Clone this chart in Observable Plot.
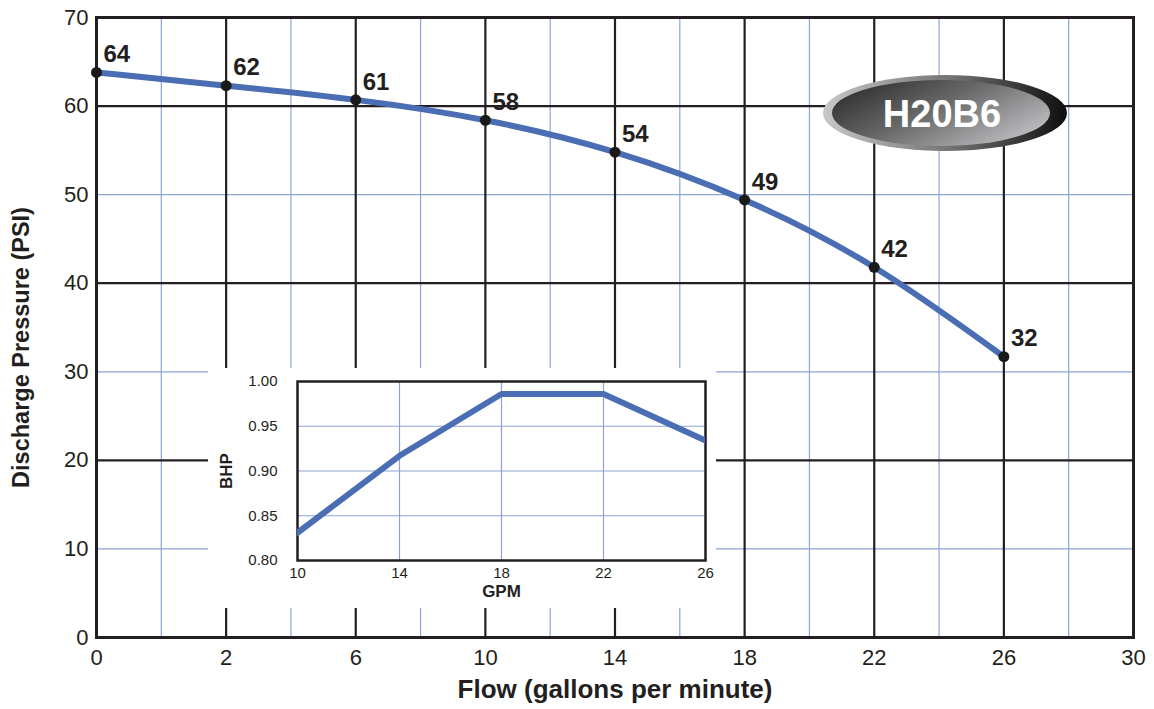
<!DOCTYPE html>
<html>
<head>
<meta charset="utf-8">
<script src="https://cdn.jsdelivr.net/npm/d3@7"></script>
<script src="https://cdn.jsdelivr.net/npm/@observablehq/plot@0.6"></script>
<style>
  html, body { margin: 0; padding: 0; background: #fff; }
  #wrap { position: relative; width: 1154px; height: 709px; font-family: "Liberation Sans", Arial, sans-serif; }
  #main { position: absolute; left: 0; top: 0; }
  #inset { position: absolute; left: 208px; top: 368px; background: #fff; }
  svg { font-family: "Liberation Sans", Arial, sans-serif; }
  [aria-label="x-axis label"], [aria-label="y-axis label"] { font-weight: bold; }
  #main [aria-label="x-axis label"] { font-size: 26px; }
  #main [aria-label="y-axis label"] { font-size: 23.5px; }
  #inset [aria-label="x-axis label"], #inset [aria-label="y-axis label"] { font-size: 17px; }
</style>
</head>
<body>
<div id="wrap"><div id="main"></div><div id="inset"></div></div>
<script>
// ---- data ----
const flowTicks = [0, 2, 6, 10, 14, 18, 22, 26, 30];
const flowMinor = [1, 4, 8, 12, 16, 20, 24, 28];
const pressureTicks = [0, 10, 20, 30, 40, 50, 60, 70];
const pressureMajorGrid = [20, 40, 60];
const pressureMinorGrid = [10, 30, 50];
const flow = [0, 2, 6, 10, 14, 18, 22, 26];
const pressure = [63.8, 62.3, 60.7, 58.4, 54.8, 49.4, 41.8, 31.7];
const pressureLabels = ["64", "62", "61", "58", "54", "49", "42", "32"];

const gpm = [10, 14, 18, 22, 26];
const bhp = [0.831, 0.917, 0.986, 0.986, 0.934];
const bhpTicks = [0.80, 0.85, 0.90, 0.95, 1.00];
const modelName = "H20B6";

const BLUE = "#4a6db3";
const GRID_BLUE = "#8ea2d6";
const INK = "#231f20";

const curve = flow.map((f, i) => ({flow: f, pressure: pressure[i], label: pressureLabels[i]}));
const bhpData = gpm.map((g, i) => ({gpm: g, bhp: bhp[i]}));

// ---- main chart ----
const main = Plot.plot({
  width: 1154,
  height: 709,
  marginLeft: 96,
  marginRight: 21,
  marginTop: 17,
  marginBottom: 72,
  x: {type: "linear", domain: flowTicks},
  y: {type: "linear", domain: [0, 70]},
  style: {fontFamily: "Liberation Sans, Arial, sans-serif", color: INK, background: "transparent"},
  marks: [
    Plot.ruleX(flowMinor, {stroke: GRID_BLUE, strokeWidth: 1.2}),
    Plot.ruleY(pressureMinorGrid, {stroke: GRID_BLUE, strokeWidth: 1.2}),
    Plot.ruleX(flowTicks.slice(1, -1), {stroke: INK, strokeWidth: 2.2}),
    Plot.ruleY(pressureMajorGrid, {stroke: INK, strokeWidth: 2.2}),
    Plot.frame({stroke: INK, strokeWidth: 3}),
    Plot.axisX({ticks: flowTicks, tickSize: 0, tickPadding: 12, fontSize: 22,
      label: "Flow (gallons per minute)", labelAnchor: "center", labelOffset: 60, labelArrow: "none"}),
    Plot.axisY({ticks: pressureTicks, tickSize: 0, tickPadding: 8, fontSize: 22,
      label: "Discharge Pressure (PSI)", labelAnchor: "center", labelOffset: 84, labelArrow: "none"}),
    Plot.line(curve, {x: "flow", y: "pressure", stroke: BLUE, strokeWidth: 6, curve: "natural"}),
    Plot.dot(curve, {x: "flow", y: "pressure", r: 5.5, fill: "#1a1a1a", stroke: "none"}),
    Plot.text(curve, {x: "flow", y: "pressure", text: "label", textAnchor: "start", dx: 7, dy: -18,
      fontSize: 24, fontWeight: "bold", fill: INK})
  ]
});
document.getElementById("main").appendChild(main);

// nudge the y-axis title down to sit like the original
d3.select(main).selectAll('[aria-label="y-axis label"] text').each(function () {
  const t = this.getAttribute("transform") || "";
  this.setAttribute("transform", "translate(0,20) " + t);
});

// logo badge
{
  const svg = d3.select(main);
  const defs = svg.append("defs");
  const g1 = defs.append("linearGradient").attr("id", "ringGrad").attr("x1", "0").attr("x2", "1").attr("y1", "0").attr("y2", "0");
  g1.append("stop").attr("offset", "0").attr("stop-color", "#c8c8c8");
  g1.append("stop").attr("offset", "0.55").attr("stop-color", "#6e6e6e");
  g1.append("stop").attr("offset", "1").attr("stop-color", "#0e0e0e");
  const g2 = defs.append("linearGradient").attr("id", "coreGrad").attr("x1", "0").attr("x2", "1").attr("y1", "0.2").attr("y2", "0.8");
  g2.append("stop").attr("offset", "0").attr("stop-color", "#2e2e2e");
  g2.append("stop").attr("offset", "0.45").attr("stop-color", "#6a6a6b");
  g2.append("stop").attr("offset", "1").attr("stop-color", "#c4c5c7");
  const cx = 945, cy = 113;
  const badge = svg.append("g");
  badge.append("ellipse").attr("cx", cx).attr("cy", cy).attr("rx", 122).attr("ry", 38).attr("fill", "url(#ringGrad)");
  badge.append("ellipse").attr("cx", cx - 4).attr("cy", cy).attr("rx", 109).attr("ry", 33).attr("fill", "url(#coreGrad)");
  badge.append("text").attr("x", cx - 3).attr("y", cy).attr("dy", "0.36em").attr("text-anchor", "middle")
    .attr("fill", "#fff").attr("font-size", 38).attr("font-weight", "bold").text(modelName);
}

// ---- inset chart ----
const inset = Plot.plot({
  width: 508,
  height: 240,
  marginLeft: 89,
  marginRight: 11,
  marginTop: 13,
  marginBottom: 48,
  x: {type: "linear", domain: [10, 26]},
  y: {type: "linear", domain: [0.80, 1.00]},
  style: {fontFamily: "Liberation Sans, Arial, sans-serif", color: INK, background: "#fff"},
  marks: [
    Plot.ruleX(gpm, {stroke: GRID_BLUE, strokeWidth: 1.2}),
    Plot.ruleY(bhpTicks, {stroke: GRID_BLUE, strokeWidth: 1.2}),
    Plot.frame({stroke: INK, strokeWidth: 2.5}),
    Plot.axisX({ticks: gpm, tickSize: 0, tickPadding: 7, fontSize: 15,
      label: "GPM", labelAnchor: "center", labelOffset: 36, labelArrow: "none"}),
    Plot.axisY({ticks: bhpTicks, tickSize: 0, tickPadding: 20, fontSize: 15, tickFormat: d3.format(".2f"),
      label: "BHP", labelAnchor: "center", labelOffset: 78, labelArrow: "none"}),
    Plot.line(bhpData, {x: "gpm", y: "bhp", stroke: BLUE, strokeWidth: 6, clip: true})
  ]
});
document.getElementById("inset").appendChild(inset);
</script>
</body>
</html>
